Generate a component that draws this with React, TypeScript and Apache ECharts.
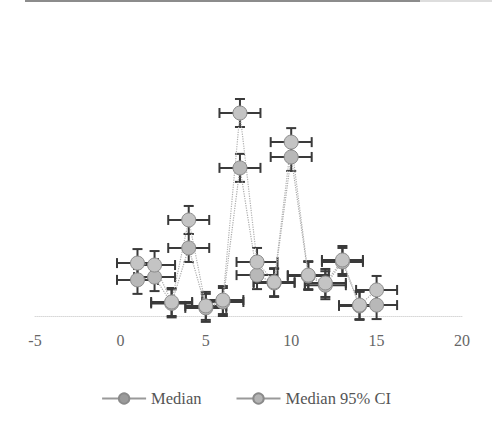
import React, { useEffect, useRef } from "react";
import * as echarts from "echarts";

const xValues = [1, 2, 3, 4, 5, 6, 7, 8, 9, 10, 11, 12, 13, 14, 15];
const medianValues = [1.29, 1.39, 0.45, 2.43, 0.29, 0.5, 5.29, 1.46, 1.18, 5.68, 1.43, 1.1, 1.93, 0.36, 0.39];
const ciValues = [1.89, 1.82, 0.5, 3.43, 0.36, 0.57, 7.25, 1.93, 1.21, 6.21, 1.46, 1.18, 2.0, 0.39, 0.93];
const xError = 1.2;
const yError = 0.5;
const xTicks = [-5, 0, 5, 10, 15, 20];

export default function App() {
  const ref = useRef<HTMLDivElement>(null);
  useEffect(() => {
    if (!ref.current) return;
    const chart = echarts.init(ref.current, undefined, { renderer: "svg" });
    const errData: number[][] = [];
    xValues.forEach((x, i) => {
      errData.push([x, medianValues[i], x - xError, x + xError, medianValues[i] - yError, medianValues[i] + yError]);
      errData.push([x, ciValues[i], x - xError, x + xError, ciValues[i] - yError, ciValues[i] + yError]);
    });
    const font = "'Liberation Serif', 'DejaVu Serif', serif";
    chart.setOption({
      animation: false,
      grid: { left: 35, right: 30, top: 36, bottom: 113 },
      xAxis: {
        type: "value",
        min: xTicks[0],
        max: xTicks[xTicks.length - 1],
        interval: 5,
        axisLine: { show: true, lineStyle: { color: "#d8d8d8", type: "dotted", width: 1 } },
        axisTick: { show: false },
        splitLine: { show: false },
        axisLabel: { color: "#666", fontSize: 16, fontFamily: font, margin: 16 },
      },
      yAxis: {
        type: "value",
        min: 0,
        max: 10,
        show: false,
        splitLine: { show: false },
      },
      legend: {
        bottom: 17,
        left: "center",
        itemWidth: 44,
        itemHeight: 13,
        itemGap: 34,
        textStyle: { color: "#555", fontSize: 16.5, fontFamily: font },
        data: [
          { name: "Median", itemStyle: { color: "#9a9a9a" }, lineStyle: { type: "solid", color: "#999" } },
          { name: "Median 95% CI", itemStyle: { color: "#b4b4b4" }, lineStyle: { type: "solid", color: "#999" } },
        ],
      },
      graphic: [
        { type: "line", shape: { x1: 25, y1: 1, x2: 420, y2: 1 }, style: { stroke: "#666", lineWidth: 1.5 } },
        { type: "line", shape: { x1: 420, y1: 1, x2: 492, y2: 1 }, style: { stroke: "#bbb", lineWidth: 1 } },
      ],
      series: [
        {
          type: "custom",
          name: "errors",
          silent: true,
          z: 3,
          renderItem: (params: any, api: any) => {
            const p = api.coord([api.value(0), api.value(1)]);
            const l = api.coord([api.value(2), api.value(1)]);
            const r = api.coord([api.value(3), api.value(1)]);
            const b = api.coord([api.value(0), api.value(4)]);
            const t = api.coord([api.value(0), api.value(5)]);
            const style = { stroke: "#3a3a3a", lineWidth: 2 };
            const cap = 5;
            return {
              type: "group",
              children: [
                { type: "line", shape: { x1: l[0], y1: p[1], x2: r[0], y2: p[1] }, style },
                { type: "line", shape: { x1: l[0], y1: p[1] - cap, x2: l[0], y2: p[1] + cap }, style },
                { type: "line", shape: { x1: r[0], y1: p[1] - cap, x2: r[0], y2: p[1] + cap }, style },
                { type: "line", shape: { x1: p[0], y1: b[1], x2: p[0], y2: t[1] }, style },
                { type: "line", shape: { x1: p[0] - cap, y1: b[1], x2: p[0] + cap, y2: b[1] }, style },
                { type: "line", shape: { x1: p[0] - cap, y1: t[1], x2: p[0] + cap, y2: t[1] }, style },
              ],
            };
          },
          data: errData,
        },
        {
          type: "line",
          name: "Median",
          z: 4,
          data: xValues.map((x, i) => [x, medianValues[i]]),
          symbol: "circle",
          symbolSize: 14,
          itemStyle: { color: "#b8b8b8", borderColor: "#8a8a8a", borderWidth: 1 },
          lineStyle: { color: "#aaa", width: 1.2, type: "dotted" },
        },
        {
          type: "line",
          name: "Median 95% CI",
          z: 4,
          data: xValues.map((x, i) => [x, ciValues[i]]),
          symbol: "circle",
          symbolSize: 14,
          itemStyle: { color: "#c4c4c4", borderColor: "#8a8a8a", borderWidth: 1 },
          lineStyle: { color: "#b0b0b0", width: 1.2, type: "dotted" },
        },
      ],
    });
    return () => chart.dispose();
  }, []);
  return <div ref={ref} style={{ position: "fixed", left: 0, top: 0, width: 492, height: 429, background: "#fff" }} />;
}
